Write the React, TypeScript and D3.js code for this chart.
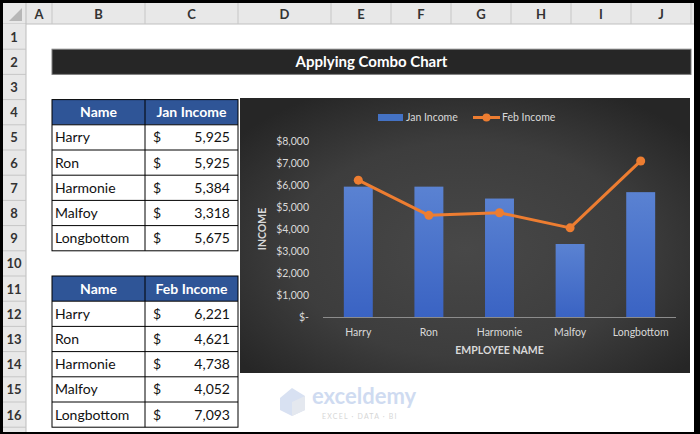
import React from "react";
import * as d3 from "d3";

const names = ["Harry", "Ron", "Harmonie", "Malfoy", "Longbottom"];
const janIncome = [5925, 5925, 5384, 3318, 5675];
const febIncome = [6221, 4621, 4738, 4052, 7093];
const yTicks = [0, 1000, 2000, 3000, 4000, 5000, 6000, 7000, 8000];
const columnLetters = ["A", "B", "C", "D", "E", "F", "G", "H", "I", "J"];
const columnEdges = [26, 52, 145, 238, 331, 391, 451, 511, 571, 631, 691];
const rowNumbers = d3.range(1, 17);

const FONT = "Lato, 'Open Sans', sans-serif";
const ROW_TOP = 24;
const ROW_H = 25.2;
const rowTop = (r: number) => ROW_TOP + (r - 1) * ROW_H;

const fmtNum = d3.format(",");
const fmtTick = (v: number) => (v === 0 ? "$-" : "$" + d3.format(",")(v));

function Table({ startRow, header, values }: { startRow: number; header: string; values: number[] }) {
  const x0 = columnEdges[1];
  const x1 = columnEdges[2];
  const x2 = columnEdges[3];
  const top = rowTop(startRow);
  const bottom = rowTop(startRow + names.length + 1);
  return (
    <g fontFamily={FONT}>
      <rect x={x0} y={top} width={x2 - x0} height={ROW_H} fill="#2F5597" />
      <text x={(x0 + x1) / 2} y={top + ROW_H / 2 + 5} textAnchor="middle" fill="#fff" fontWeight="bold" fontSize={14}>Name</text>
      <text x={(x1 + x2) / 2} y={top + ROW_H / 2 + 5} textAnchor="middle" fill="#fff" fontWeight="bold" fontSize={14}>{header}</text>
      {names.map((n, i) => {
        const y = rowTop(startRow + 1 + i);
        return (
          <g key={n}>
            <rect x={x0} y={y} width={x2 - x0} height={ROW_H} fill="#fff" />
            <text x={x0 + 3} y={y + ROW_H / 2 + 5} fill="#111" fontSize={14}>{n}</text>
            <text x={x1 + 8} y={y + ROW_H / 2 + 5} fill="#111" fontSize={14}>$</text>
            <text x={x2 - 8} y={y + ROW_H / 2 + 5} fill="#111" fontSize={14} textAnchor="end">{fmtNum(values[i])}</text>
          </g>
        );
      })}
      {d3.range(startRow + 1, startRow + names.length + 1).map((r) => (
        <line key={r} x1={x0} x2={x2} y1={rowTop(r)} y2={rowTop(r)} stroke="#000" strokeWidth={1} />
      ))}
      <line x1={x1} x2={x1} y1={top} y2={bottom} stroke="#000" strokeWidth={1} />
      <rect x={x0} y={top} width={x2 - x0} height={bottom - top} fill="none" stroke="#000" strokeWidth={1} />
    </g>
  );
}

function Chart() {
  const cx0 = 240, cy0 = 98, cx1 = 690, cy1 = 373;
  const x = d3.scaleBand<string>().domain(names).range([323, 676]).paddingInner(0.59).paddingOuter(0.295);
  const y = d3.scaleLinear().domain([0, 8000]).range([317, 141]);
  const line = d3
    .line<number>()
    .x((_, i) => (x(names[i]) as number) + x.bandwidth() / 2)
    .y((d) => y(d));
  return (
    <g fontFamily={FONT}>
      <defs>
        <radialGradient id="bg" cx="0.5" cy="0.55" r="0.65">
          <stop offset="0" stopColor="#484848" />
          <stop offset="0.6" stopColor="#3d3d3d" />
          <stop offset="1" stopColor="#262626" />
        </radialGradient>
        <linearGradient id="bar" x1="0" y1="0" x2="0" y2="1">
          <stop offset="0" stopColor="#5a82d2" />
          <stop offset="1" stopColor="#3a63c3" />
        </linearGradient>
      </defs>
      <rect x={cx0} y={cy0} width={cx1 - cx0} height={cy1 - cy0} fill="url(#bg)" />
      {yTicks.map((t) => (
        <text key={t} x={309} y={y(t) + 3.8} textAnchor="end" fill="#d9d9d9" fontSize={10.5}>{fmtTick(t)}</text>
      ))}
      {names.map((n, i) => (
        <rect key={n} x={x(n)} y={y(janIncome[i])} width={x.bandwidth()} height={y(0) - y(janIncome[i])} fill="url(#bar)" />
      ))}
      <line x1={323} x2={676} y1={y(0) + 0.5} y2={y(0) + 0.5} stroke="#8c8c8c" strokeWidth={1} />
      {names.map((n) => (
        <text key={n} x={(x(n) as number) + x.bandwidth() / 2} y={335.5} textAnchor="middle" fill="#d9d9d9" fontSize={10.5}>{n}</text>
      ))}
      <path d={line(febIncome) || ""} fill="none" stroke="#ED7D31" strokeWidth={3} strokeLinejoin="round" />
      {febIncome.map((v, i) => (
        <circle key={i} cx={(x(names[i]) as number) + x.bandwidth() / 2} cy={y(v)} r={4.5} fill="#ED7D31" />
      ))}
      <text x={499.5} y={354} textAnchor="middle" fill="#d9d9d9" fontSize={10.5} fontWeight="bold">EMPLOYEE NAME</text>
      <text transform={`translate(266,${y(4000)}) rotate(-90)`} textAnchor="middle" fill="#d9d9d9" fontSize={10.5} fontWeight="bold">INCOME</text>
      <rect x={378} y={114} width={25} height={7} fill="#4472C4" />
      <text x={406} y={121} fill="#d9d9d9" fontSize={10.5}>Jan Income</text>
      <line x1={473} x2={500} y1={117.5} y2={117.5} stroke="#ED7D31" strokeWidth={3} />
      <circle cx={486.5} cy={117.5} r={4} fill="#ED7D31" />
      <text x={502} y={121} fill="#d9d9d9" fontSize={10.5}>Feb Income</text>
    </g>
  );
}

export default function App() {
  return (
    <div style={{ position: "fixed", left: 0, top: 0 }}>
      <svg width={700} height={434} style={{ display: "block" }}>
        <rect x={0} y={0} width={700} height={434} fill="#000" />
        <rect x={3} y={3} width={691} height={429} fill="#fff" />
        {/* column header */}
        <rect x={3} y={3} width={691} height={21} fill="#e8e8e8" />
        <line x1={3} x2={694} y1={24} y2={24} stroke="#c0c0c0" />
        <path d="M22,8 L22,21 L9,21 Z" fill="#b7b7b7" />
        {columnLetters.map((c, i) => (
          <g key={c}>
            <line x1={columnEdges[i + 1]} x2={columnEdges[i + 1]} y1={3} y2={24} stroke="#c6c6c6" />
            <text x={(columnEdges[i] + columnEdges[i + 1]) / 2} y={19} textAnchor="middle" fontFamily={FONT} fontSize={13} fill="#333" fontWeight="bold">{c}</text>
          </g>
        ))}
        {/* row header */}
        <rect x={3} y={24} width={23} height={408} fill="#e8e8e8" />
        <line x1={26} x2={26} y1={3} y2={432} stroke="#bdbdbd" />
        {rowNumbers.map((r) => (
          <g key={r}>
            <line x1={3} x2={26} y1={rowTop(r + 1)} y2={rowTop(r + 1)} stroke="#c6c6c6" />
            <text x={14} y={rowTop(r) + ROW_H / 2 + 5} textAnchor="middle" fontFamily={FONT} fontSize={13} fill="#333" fontWeight="bold">{r}</text>
          </g>
        ))}
        {/* title */}
        <rect x={52} y={rowTop(2)} width={639} height={ROW_H} fill="#262626" stroke="#7f7f7f" strokeWidth={1} />
        <text x={371.5} y={rowTop(2) + ROW_H / 2 + 5.5} textAnchor="middle" fill="#fff" fontFamily={FONT} fontWeight="bold" fontSize={15}>Applying Combo Chart</text>
        <Table startRow={4} header="Jan Income" values={janIncome} />
        <Table startRow={11} header="Feb Income" values={febIncome} />
        <Chart />
        {/* watermark */}
        <g opacity={0.55}>
          <path d="M280,398 L292,388 L305,396 L305,410 L292,416 L280,410 Z" fill="#b9c9e8" />
          <path d="M292,402 L305,396 L305,410 L292,416 Z" fill="#cfd6e2" />
          <text x={312} y={404} fontFamily={FONT} fontWeight="bold" fontSize={22} fill="#a9bfe6">exceldemy</text>
          <text x={322} y={419} fontFamily={FONT} fontSize={7} letterSpacing={1.2} fill="#b5b5b5">EXCEL · DATA · BI</text>
        </g>
        {/* right frame */}
        <rect x={694} y={0} width={6} height={434} fill="#000" />
        <rect x={0} y={432} width={700} height={2} fill="#000" />
      </svg>
    </div>
  );
}
